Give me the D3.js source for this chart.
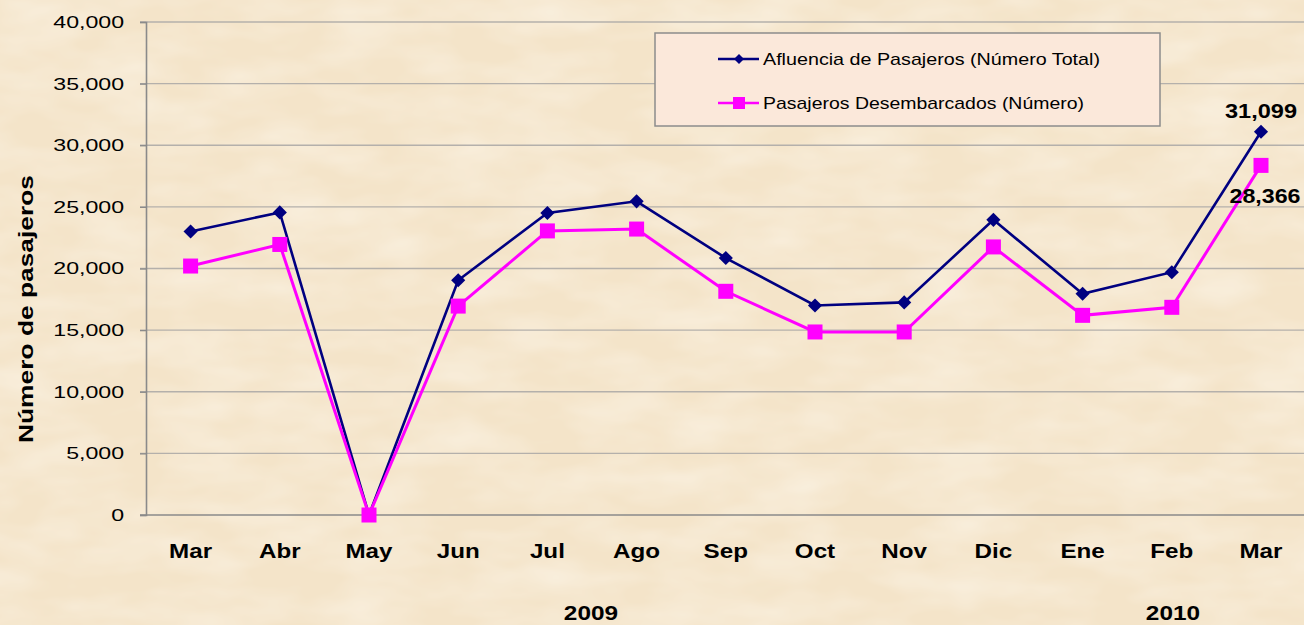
<!DOCTYPE html>
<html>
<head>
<meta charset="utf-8">
<script src="https://cdn.jsdelivr.net/npm/d3@7"></script>
<style>
  html, body { margin: 0; padding: 0; overflow: hidden; }
  body { background: #f4e4c9; font-family: Arial, "Liberation Sans", sans-serif; }
</style>
</head>
<body>
<script>
// months shown on the x axis
var months = ["Mar", "Abr", "May", "Jun", "Jul", "Ago", "Sep", "Oct", "Nov", "Dic", "Ene", "Feb", "Mar"];
// total passenger arrivals
var afluencia = [23000, 24550, 0, 19050, 24500, 25450, 20850, 17000, 17250, 23950, 17950, 19700, 31099];
// passengers who came ashore
var desembarcados = [20200, 21950, 0, 16950, 23050, 23200, 18150, 14850, 14850, 21750, 16200, 16850, 28366];
var yTicks = [0, 5000, 10000, 15000, 20000, 25000, 30000, 35000, 40000];
var years = [{label: "2009", at: 5}, {label: "2010", at: 12}];

var w = 1304, h = 625;
var margin = {top: 22, left: 146, bottom: 110};

// the original chart is stretched sideways, so widen the text a bit
function stretch(sel, k) {
  sel.each(function() {
    var l = this.getComputedTextLength();
    d3.select(this).attr("textLength", l * k).attr("lengthAdjust", "spacingAndGlyphs");
  });
}

var svg = d3.select("body").append("svg")
    .attr("width", w)
    .attr("height", h);

// parchment-ish texture
var defs = svg.append("defs");
var f = defs.append("filter").attr("id", "paper").attr("x", 0).attr("y", 0).attr("width", "100%").attr("height", "100%");
f.append("feTurbulence").attr("type", "fractalNoise").attr("baseFrequency", "0.012 0.03").attr("numOctaves", 3).attr("seed", 4).attr("result", "n");
f.append("feColorMatrix").attr("in", "n").attr("type", "matrix")
  .attr("values", "0 0 0 0 0.98  0 0 0 0 0.93  0 0 0 0 0.84  0 0 0 -0.9 0.6");

svg.append("rect").attr("width", w).attr("height", h).attr("fill", "#f4e4c9");
svg.append("rect").attr("width", w).attr("height", h).attr("filter", "url(#paper)");

var x = d3.scaleBand()
    .domain(d3.range(months.length))
    .range([margin.left, margin.left + 89.2 * months.length]);

var y = d3.scaleLinear()
    .domain([0, 40000])
    .range([h - margin.bottom, margin.top]);

var cx = i => x(i) + x.bandwidth() / 2;

// gridlines
svg.append("g")
    .selectAll("line")
    .data(yTicks.slice(1))
    .enter().append("line")
    .attr("x1", margin.left - 6)
    .attr("x2", w)
    .attr("y1", d => y(d))
    .attr("y2", d => y(d))
    .attr("stroke", "#b4b0ab")
    .attr("stroke-width", 1.3);

// y axis
var yAxis = svg.append("g")
    .attr("transform", "translate(" + margin.left + ",0)")
    .call(d3.axisLeft(y).tickValues(yTicks).tickFormat(d3.format(",")).tickSize(6).tickPadding(16));
yAxis.select(".domain").attr("stroke", "#8a8a8a").attr("stroke-width", 1.6);
yAxis.selectAll(".tick line").attr("stroke", "#8a8a8a").attr("stroke-width", 1.3);
yAxis.selectAll("text")
    .attr("font-size", "17px")
    .attr("font-family", "Arial, 'Liberation Sans', sans-serif")
    .attr("fill", "#000")
    .call(stretch, 1.36);

// x axis baseline
svg.append("line")
    .attr("x1", margin.left - 6).attr("x2", w)
    .attr("y1", y(0)).attr("y2", y(0))
    .attr("stroke", "#8a8a8a").attr("stroke-width", 1.6);

// month labels
svg.append("g")
    .selectAll("text")
    .data(months)
    .enter().append("text")
    .attr("x", (d, i) => cx(i))
    .attr("y", 558)
    .attr("text-anchor", "middle")
    .attr("font-size", "19.5px")
    .attr("font-weight", "bold")
    .text(d => d)
    .call(stretch, 1.24);

// year labels
svg.append("g")
    .selectAll("text")
    .data(years)
    .enter().append("text")
    .attr("x", d => d.at == 5 ? x(d.at) - 1 : cx(d.at) - 88)
    .attr("y", 620)
    .attr("text-anchor", "middle")
    .attr("font-size", "19.5px")
    .attr("font-weight", "bold")
    .text(d => d.label)
    .call(stretch, 1.25);

// y axis title
svg.append("text")
    .attr("transform", "translate(33,309) rotate(-90)")
    .attr("text-anchor", "middle")
    .attr("font-size", "20.5px")
    .attr("font-weight", "bold")
    .text("Número de pasajeros")
    .attr("textLength", 268)
    .attr("lengthAdjust", "spacingAndGlyphs");

var line = d3.line()
    .x((d, i) => cx(i))
    .y(d => y(d));

// navy series
svg.append("path")
    .datum(afluencia)
    .attr("d", line)
    .attr("fill", "none")
    .attr("stroke", "#000080")
    .attr("stroke-width", 2.6);

svg.append("g")
    .selectAll("path")
    .data(afluencia)
    .enter().append("path")
    .attr("d", d3.symbol().type(d3.symbolSquare).size(100))
    .attr("transform", (d, i) => "translate(" + cx(i) + "," + y(d) + ") rotate(45)")
    .attr("fill", "#000080");

// magenta series, drawn on top
svg.append("path")
    .datum(desembarcados)
    .attr("d", line)
    .attr("fill", "none")
    .attr("stroke", "#ff00ff")
    .attr("stroke-width", 3);

svg.append("g")
    .selectAll("rect")
    .data(desembarcados)
    .enter().append("rect")
    .attr("x", (d, i) => cx(i) - 7.5)
    .attr("y", d => y(d) - 7.5)
    .attr("width", 15)
    .attr("height", 15)
    .attr("fill", "#ff00ff");

// labels on the last point
var last = months.length - 1;
svg.append("text")
    .attr("x", cx(last))
    .attr("y", 118)
    .attr("text-anchor", "middle")
    .attr("font-size", "19.5px")
    .attr("font-weight", "bold")
    .text(d3.format(",")(afluencia[last]))
    .attr("textLength", 72)
    .attr("lengthAdjust", "spacingAndGlyphs");
svg.append("text")
    .attr("x", cx(last) + 4)
    .attr("y", 203)
    .attr("text-anchor", "middle")
    .attr("font-size", "19.5px")
    .attr("font-weight", "bold")
    .text(d3.format(",")(desembarcados[last]))
    .attr("textLength", 71)
    .attr("lengthAdjust", "spacingAndGlyphs");

// legend
var lg = svg.append("g").attr("transform", "translate(655,33)");
lg.append("rect")
    .attr("width", 505).attr("height", 93)
    .attr("fill", "#fbe8da")
    .attr("stroke", "#8c8c8c").attr("stroke-width", 1.5);

var items = [
  {name: "Afluencia de Pasajeros (Número Total)", color: "#000080", shape: "diamond", len: 337},
  {name: "Pasajeros Desembarcados (Número)", color: "#ff00ff", shape: "square", len: 321}
];
items.forEach(function(it, i) {
  var ly = 26 + i * 44;
  lg.append("line").attr("x1", 63).attr("x2", 104).attr("y1", ly).attr("y2", ly)
    .attr("stroke", it.color).attr("stroke-width", 2.6);
  if (it.shape == "diamond") {
    lg.append("path")
      .attr("d", d3.symbol().type(d3.symbolSquare).size(50))
      .attr("transform", "translate(84," + ly + ") rotate(45)")
      .attr("fill", it.color);
  } else {
    lg.append("rect").attr("x", 78).attr("y", ly - 6).attr("width", 12).attr("height", 12).attr("fill", it.color);
  }
  lg.append("text")
    .attr("x", 108).attr("y", ly + 6)
    .attr("font-size", "17px")
    .text(it.name)
    .attr("textLength", it.len)
    .attr("lengthAdjust", "spacingAndGlyphs");
});
</script>
</body>
</html>
